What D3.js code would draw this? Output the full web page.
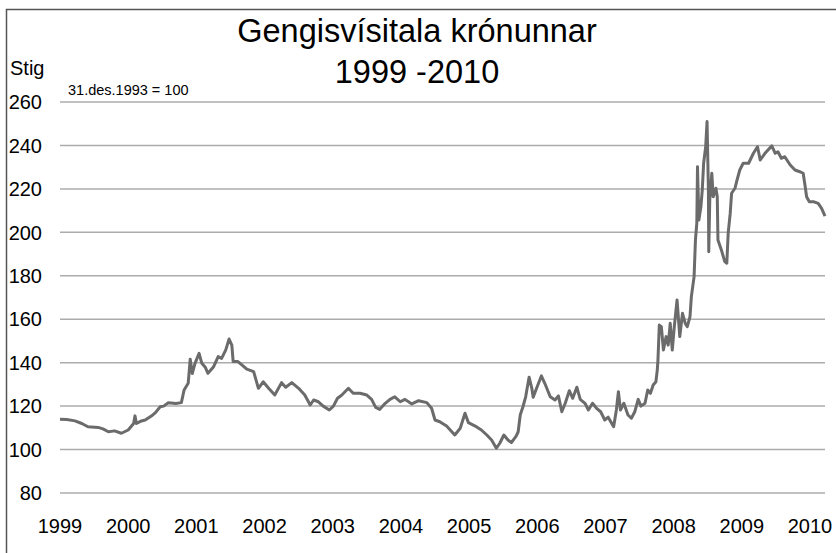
<!DOCTYPE html>
<html>
<head>
<meta charset="utf-8">
<script src="https://cdn.jsdelivr.net/npm/d3@7"></script>
<style>
  body { margin: 0; background: #fff; }
  svg { display: block; font-family: "Liberation Sans", Arial, sans-serif; }
</style>
</head>
<body>
<div id="chart"></div>
<script>
// Data (decimal year, index value)
const dates = [
  1999.00, 1999.10, 1999.22, 1999.32, 1999.41, 1999.56, 1999.63, 1999.71, 1999.80, 1999.90,
  2000.00, 2000.08, 2000.10, 2000.12, 2000.18, 2000.25, 2000.34, 2000.40, 2000.47, 2000.52,
  2000.59, 2000.70, 2000.78, 2000.82, 2000.88, 2000.91, 2000.94, 2000.98, 2001.04, 2001.08,
  2001.13, 2001.17, 2001.25, 2001.32, 2001.37, 2001.43, 2001.48, 2001.52, 2001.54, 2001.61,
  2001.74, 2001.84, 2001.91, 2001.98, 2002.06, 2002.15, 2002.25, 2002.31, 2002.40, 2002.50,
  2002.59, 2002.67, 2002.72, 2002.79, 2002.86, 2002.95, 2003.01, 2003.07, 2003.13, 2003.18,
  2003.23, 2003.30, 2003.40, 2003.50, 2003.57, 2003.63, 2003.69, 2003.77, 2003.84, 2003.91,
  2003.99, 2004.06, 2004.16, 2004.26, 2004.38, 2004.45, 2004.50, 2004.57, 2004.67, 2004.79,
  2004.87, 2004.94, 2004.99, 2005.09, 2005.18, 2005.26, 2005.33, 2005.40, 2005.45, 2005.51,
  2005.57, 2005.62, 2005.69, 2005.72, 2005.75, 2005.79, 2005.83, 2005.88, 2005.92, 2005.94,
  2005.99, 2006.06, 2006.11, 2006.19, 2006.26, 2006.31, 2006.36, 2006.41, 2006.47, 2006.52,
  2006.58, 2006.63, 2006.70, 2006.75, 2006.81, 2006.87, 2006.93, 2006.99, 2007.04, 2007.12,
  2007.16, 2007.19, 2007.22, 2007.27, 2007.33, 2007.38, 2007.43, 2007.48, 2007.52, 2007.58,
  2007.62, 2007.66, 2007.70, 2007.74, 2007.76, 2007.77, 2007.79, 2007.82, 2007.85, 2007.89,
  2007.92, 2007.95, 2007.98, 2008.01, 2008.05, 2008.09, 2008.13, 2008.17, 2008.20, 2008.24,
  2008.26, 2008.30, 2008.32, 2008.34, 2008.35, 2008.37, 2008.40, 2008.42, 2008.44, 2008.47,
  2008.49, 2008.51, 2008.515, 2008.53, 2008.56, 2008.58, 2008.62, 2008.64, 2008.65, 2008.70,
  2008.75, 2008.78, 2008.80, 2008.83, 2008.85, 2008.90, 2008.93, 2008.97, 2009.02, 2009.10,
  2009.17, 2009.23, 2009.27, 2009.34, 2009.44, 2009.49, 2009.53, 2009.58, 2009.63, 2009.71,
  2009.78, 2009.85, 2009.90, 2009.93, 2009.95, 2009.99, 2010.05, 2010.12, 2010.17, 2010.22
];
const values = [
  114.0, 113.8, 113.2, 112.0, 110.5, 110.2, 109.5, 108.2, 108.6, 107.5,
  109.0, 112.0, 115.5, 112.0, 113.0, 113.6, 115.4, 117.0, 119.7, 120.0,
  121.6, 121.2, 121.6, 127.4, 130.5, 141.6, 135.0, 139.7, 144.3, 139.7,
  137.9, 135.1, 138.0, 142.8, 142.0, 145.8, 150.9, 148.1, 140.5, 140.5,
  137.0, 135.9, 128.2, 131.2, 128.2, 125.1, 130.8, 128.7, 130.8, 128.2,
  125.1, 120.5, 122.8, 122.0, 120.0, 118.2, 120.0, 123.6, 125.0, 126.6,
  128.2, 125.9, 125.9, 125.1, 123.1, 119.4, 118.5, 121.3, 123.1, 124.3,
  122.0, 123.1, 121.0, 122.5, 121.6, 119.0, 113.6, 112.8, 110.8, 106.7,
  109.8, 116.7, 112.4, 110.8, 109.0, 106.7, 104.4, 100.6, 102.9, 106.7,
  104.4, 103.2, 106.2, 108.2, 115.9, 119.7, 124.3, 133.3, 128.2, 124.1,
  128.2, 133.9, 130.5, 124.3, 122.8, 124.7, 117.4, 121.3, 127.1, 123.6,
  128.7, 123.1, 121.3, 118.2, 121.3, 119.0, 117.4, 113.6, 114.9, 110.5,
  118.2, 126.6, 118.2, 121.3, 115.9, 114.4, 117.4, 123.1, 120.0, 121.3,
  127.4, 125.9, 129.7, 131.2, 136.6, 141.2, 157.3, 156.6, 145.8, 152.0,
  148.1, 158.1, 145.8, 156.6, 168.9, 152.0, 162.7, 158.1, 156.6, 161.2,
  170.4, 179.6, 196.5, 204.2, 230.2, 205.7, 211.8, 219.5, 231.8, 239.4,
  251.0, 219.5, 191.1, 214.9, 227.2, 216.4, 220.3, 216.4, 196.5, 191.9,
  186.5, 185.8, 199.6, 208.8, 218.0, 220.3, 224.1, 228.7, 231.8, 231.8,
  236.4, 239.4, 233.3, 236.4, 239.8, 236.4, 237.1, 234.1, 234.8, 231.0,
  228.7, 227.9, 227.2, 221.0, 216.4, 214.1, 214.1, 213.3, 211.0, 207.5
];
const yearTicks = [1999, 2000, 2001, 2002, 2003, 2004, 2005, 2006, 2007, 2008, 2009, 2010];
const valueTicks = [80, 100, 120, 140, 160, 180, 200, 220, 240, 260];
const titleLines = ["Gengisvísitala krónunnar", "1999 -2010"];

const W = 836, H = 553;
const plot = { left: 60, right: 825, top: 102, bottom: 493 };

const svg = d3.select("#chart").append("svg")
    .attr("width", W)
    .attr("height", H);

// outer frame (only top and left edges fall inside the window)
svg.append("rect")
    .attr("x", 6.5).attr("y", 9.5)
    .attr("width", 900).attr("height", 600)
    .attr("fill", "none")
    .attr("stroke", "#555")
    .attr("stroke-width", 1.5);

const x = d3.scaleLinear().domain([1999, 2010.22]).range([plot.left, plot.right]);
const y = d3.scaleLinear().domain([80, 260]).range([plot.bottom, plot.top]);

// gridlines
svg.append("g")
    .selectAll("line")
    .data(valueTicks)
    .join("line")
    .attr("x1", plot.left).attr("x2", plot.right)
    .attr("y1", d => y(d)).attr("y2", d => y(d))
    .attr("stroke", "#acacac")
    .attr("stroke-width", 1.5);

// y labels
svg.append("g")
    .selectAll("text")
    .data(valueTicks)
    .join("text")
    .attr("x", 42)
    .attr("y", d => y(d))
    .attr("dy", "0.36em")
    .attr("text-anchor", "end")
    .style("font-size", "20px")
    .text(d => d);

// x labels
svg.append("g")
    .selectAll("text")
    .data(yearTicks)
    .join("text")
    .attr("x", d => x(d))
    .attr("y", 533)
    .attr("text-anchor", "middle")
    .style("font-size", "20px")
    .text(d => d);

// the series
const series = dates.map((d, i) => ({ t: d, v: values[i] }));
const line = d3.line()
    .x(d => x(d.t))
    .y(d => y(d.v));

svg.append("path")
    .datum(series)
    .attr("d", line)
    .attr("fill", "none")
    .attr("stroke", "#6b6b6b")
    .attr("stroke-width", 3)
    .attr("stroke-linejoin", "round");

// titles and notes
svg.selectAll(".title")
    .data(titleLines)
    .join("text")
    .attr("class", "title")
    .attr("x", 417)
    .attr("y", (d, i) => 42 + i * 41)
    .attr("text-anchor", "middle")
    .style("font-size", "32.5px")
    .text(d => d);

svg.append("text")
    .attr("x", 10).attr("y", 75)
    .style("font-size", "20px")
    .text("Stig");

svg.append("text")
    .attr("x", 68).attr("y", 95)
    .style("font-size", "14.5px")
    .text("31.des.1993 = 100");
</script>
</body>
</html>
